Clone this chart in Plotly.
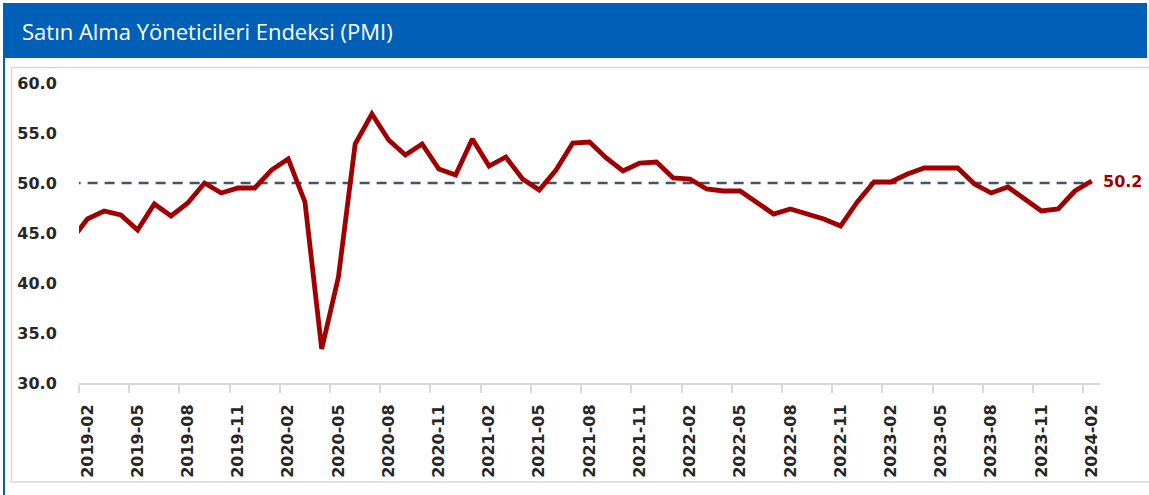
import plotly.graph_objects as go
import pandas as pd

# ---- data ----
months = [str(p) for p in pd.period_range("2019-01", "2024-02", freq="M")]
pmi = [44.2, 46.4, 47.2, 46.8, 45.3, 47.9, 46.7, 48.0, 50.0, 49.0, 49.5, 49.5,
       51.3, 52.4, 48.1, 33.4, 40.6, 53.9, 56.9, 54.3, 52.8, 53.9, 51.4, 50.8,
       54.4, 51.7, 52.6, 50.4, 49.3, 51.3, 54.0, 54.1, 52.5, 51.2, 52.0, 52.1,
       50.5, 50.4, 49.4, 49.2, 49.2, 48.1, 46.9, 47.4, 46.9, 46.4, 45.7, 48.1,
       50.1, 50.1, 50.9, 51.5, 51.5, 51.5, 49.9, 49.0, 49.6, 48.4, 47.2, 47.4,
       49.2, 50.2]
threshold = [50.0] * len(months)
y_ticks = [30, 35, 40, 45, 50, 55, 60]
title_text = "Satın Alma Yöneticileri Endeksi (PMI)"

idx = list(range(len(months)))
label_idx = [i for i in idx if i % 3 == 1]
label_text = [months[i] for i in label_idx]
boundary_ticks = [i - 0.5 for i in label_idx]

# ---- geometry helpers (pixel -> paper) ----
W, H = 1149, 495
L, R, T, B = 79, 1100, 83, 383
def xp(px):
    return (px - L) / (R - L)
def yp(py):
    return (B - py) / (B - T)

BLUE = "#0060B8"
RED = "#A00000"

fig = go.Figure()
fig.add_trace(go.Scatter(x=idx, y=threshold, mode="lines",
                         line=dict(color="#44546A", width=2.5, dash="10px,7px"),
                         hoverinfo="skip", showlegend=False))
fig.add_trace(go.Scatter(x=idx, y=pmi, mode="lines",
                         line=dict(color=RED, width=4.8),
                         showlegend=False))

fig.add_annotation(x=idx[-1], y=pmi[-1], xref="x", yref="y",
                   text=f"{pmi[-1]:.1f}", showarrow=False, xanchor="left",
                   yanchor="middle", xshift=9,
                   font=dict(family="DejaVu Sans", size=16, color=RED, weight="bold"))

fig.add_annotation(x=xp(20), y=yp(31), xref="paper", yref="paper",
                   text=title_text, showarrow=False, xanchor="left", yanchor="middle",
                   font=dict(family="Open Sans", size=22, color="white"))

shapes = [
    dict(type="rect", xref="paper", yref="paper", x0=xp(3), x1=xp(1147),
         y0=yp(58), y1=yp(3), fillcolor=BLUE, line=dict(width=0), layer="below"),
    dict(type="line", xref="paper", yref="paper", x0=xp(4), x1=xp(4),
         y0=yp(58), y1=yp(500), line=dict(color=BLUE, width=2), layer="below"),
    dict(type="rect", xref="paper", yref="paper", x0=xp(11.5), x1=xp(1160),
         y0=yp(482), y1=yp(67.5), line=dict(color="#D9D9D9", width=1.5),
         fillcolor="rgba(0,0,0,0)", layer="below"),
]

fig.update_layout(
    width=W, height=H,
    margin=dict(l=L, r=W - R, t=T, b=H - B, pad=0),
    paper_bgcolor="white", plot_bgcolor="white",
    shapes=shapes,
    showlegend=False,
    xaxis=dict(range=[0.5, len(months) - 0.5], tickmode="array",
               tickvals=label_idx, ticktext=label_text, tickangle=-90,
               ticks="outside", ticklen=13, tickcolor="rgba(0,0,0,0)",
               showgrid=False, zeroline=False, showline=True,
               linecolor="#D9D9D9", linewidth=2,
               tickfont=dict(family="DejaVu Sans", size=16, color="#262626", weight="bold"),
               minor=dict(tickmode="array", tickvals=boundary_ticks, ticks="outside",
                          ticklen=8, tickcolor="#D9D9D9", tickwidth=1.5, showgrid=False)),
    yaxis=dict(range=[30, 60], tickmode="array", tickvals=y_ticks,
               ticktext=[f"{v:.1f}" for v in y_ticks],
               ticks="outside", ticklen=18, tickcolor="rgba(0,0,0,0)",
               showgrid=False, zeroline=False, showline=False,
               tickfont=dict(family="DejaVu Sans", size=16, color="#262626", weight="bold")),
)

fig.write_html("out.html", config={"displayModeBar": False},
               post_script="document.body.style.margin='0';document.body.style.overflow='hidden';")
